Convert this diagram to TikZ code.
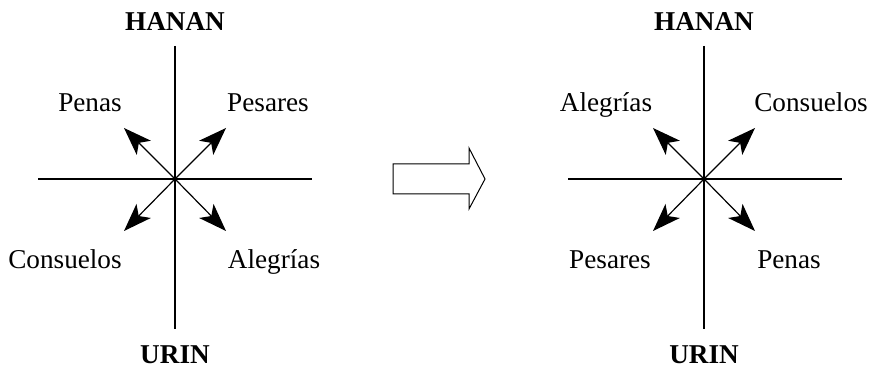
\documentclass[tikz,border=0pt]{standalone}
\usepackage{fontspec}
\setmainfont{Liberation Serif}
\usetikzlibrary{arrows.meta}
\begin{document}
\begin{tikzpicture}[x=0.5pt,y=-0.5pt,
  axis/.style={line width=0.75pt},
  dirarrow/.style={line width=0.6pt,-{Stealth[length=14pt,width=10pt,inset=3.5pt]}},
  lbl/.style={font=\fontsize{13.6}{16}\selectfont,inner sep=0pt,anchor=base},
  pole/.style={font=\fontsize{13.6}{16}\selectfont\bfseries,inner sep=0pt,anchor=base},
  blockarrow/.style={line width=0.5pt,line join=miter}]
\useasboundingbox (0,0) rectangle (870,367);
% left diagram
\coordinate (Lc) at (175,179);
\coordinate (Lt) at (175,46);
\coordinate (Lb) at (175,329);
\coordinate (Ll) at (38,179);
\coordinate (Lr) at (312,179);
\draw[axis] (Lt) -- (Lb);
\draw[axis] (Ll) -- (Lr);
\coordinate (Lul) at (124,128);
\coordinate (Lur) at (226,128);
\coordinate (Ldl) at (124,231);
\coordinate (Ldr) at (226,231);
\draw[dirarrow] (Lc) -- (Lul);
\draw[dirarrow] (Lc) -- (Lur);
\draw[dirarrow] (Lc) -- (Ldl);
\draw[dirarrow] (Lc) -- (Ldr);
\node[pole] (Lhanan) at (175,31) {HANAN};
\node[pole] (Lurin) at (175,364) {URIN};
\node[lbl] (Lpenas) at (90,112) {Penas};
\node[lbl] (Lpesares) at (268,112) {Pesares};
\node[lbl] (Lconsuelos) at (65,269) {Consuelos};
\node[lbl] (Lalegrias) at (274,269) {Alegrías};
% block arrow
\draw[blockarrow] (393,164) -- (469,164) -- (469,148) -- (485,179) -- (469,209) -- (469,194) -- (393,194) -- cycle;
% right diagram
\coordinate (Rc) at (704,179);
\coordinate (Rt) at (704,46);
\coordinate (Rb) at (704,329);
\coordinate (Rl) at (568,179);
\coordinate (Rr) at (842,179);
\draw[axis] (Rt) -- (Rb);
\draw[axis] (Rl) -- (Rr);
\coordinate (Rul) at (653,128);
\coordinate (Rur) at (755,128);
\coordinate (Rdl) at (653,231);
\coordinate (Rdr) at (755,231);
\draw[dirarrow] (Rc) -- (Rul);
\draw[dirarrow] (Rc) -- (Rur);
\draw[dirarrow] (Rc) -- (Rdl);
\draw[dirarrow] (Rc) -- (Rdr);
\node[pole] (Rhanan) at (704,31) {HANAN};
\node[pole] (Rurin) at (704,364) {URIN};
\node[lbl] (Ralegrias) at (606,112) {Alegrías};
\node[lbl] (Rconsuelos) at (811,112) {Consuelos};
\node[lbl] (Rpesares) at (610,269) {Pesares};
\node[lbl] (Rpenas) at (789,269) {Penas};
\end{tikzpicture}
\end{document}
